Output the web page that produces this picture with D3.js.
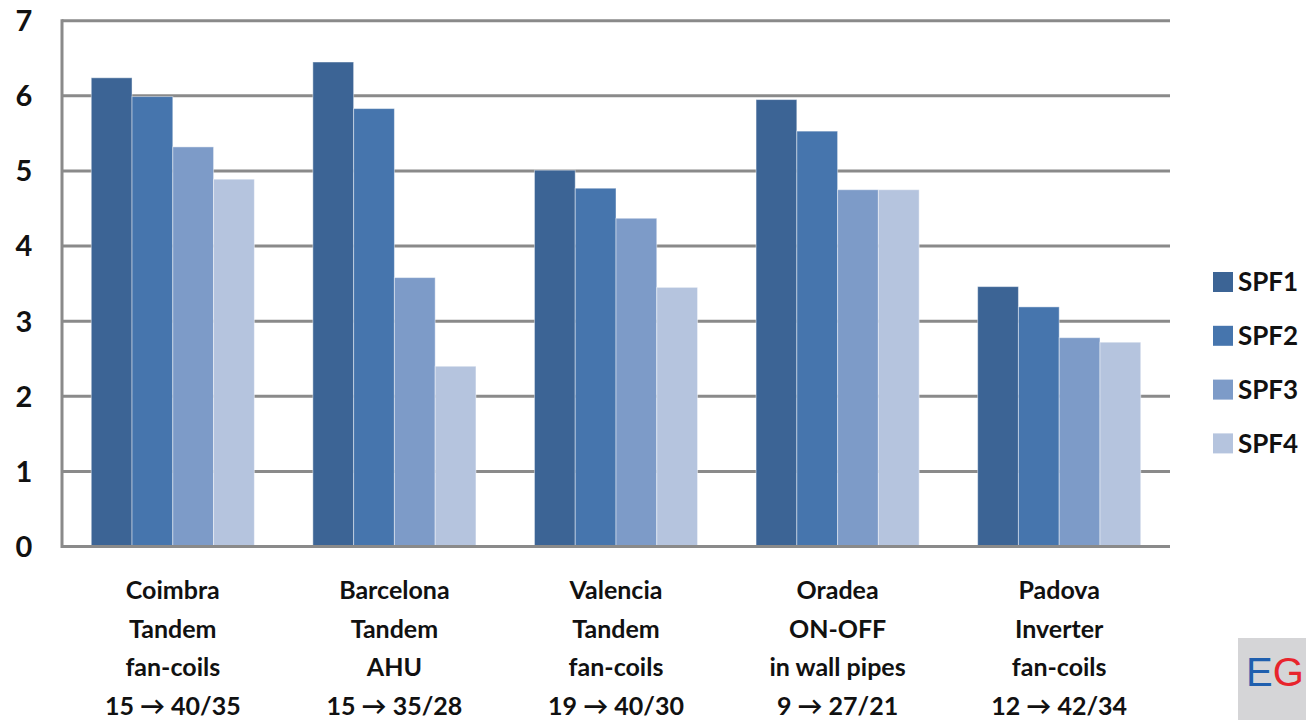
<!DOCTYPE html>
<html>
<head>
<meta charset="utf-8">
<script src="https://cdn.jsdelivr.net/npm/d3@7"></script>
<style>
  html, body { margin: 0; padding: 0; background: #fff; }
  svg { display: block; }
  text { font-family: Lato, "Open Sans", "DejaVu Sans", sans-serif; fill: #111; }
</style>
</head>
<body>
<svg id="chart" width="1306" height="720"></svg>
<script>
// Seasonal performance factors per installation
const categories = [
  ["Coimbra", "Tandem", "fan-coils", "15 \u2192 40/35"],
  ["Barcelona", "Tandem", "AHU", "15 \u2192 35/28"],
  ["Valencia", "Tandem", "fan-coils", "19 \u2192 40/30"],
  ["Oradea", "ON-OFF", "in wall pipes", "9 \u2192 27/21"],
  ["Padova", "Inverter", "fan-coils", "12 \u2192 42/34"]
];
const seriesNames = ["SPF1", "SPF2", "SPF3", "SPF4"];
const spf1 = [6.24, 6.45, 5.01, 5.95, 3.46];
const spf2 = [5.99, 5.83, 4.77, 5.53, 3.19];
const spf3 = [5.32, 3.58, 4.37, 4.75, 2.78];
const spf4 = [4.89, 2.40, 3.45, 4.75, 2.72];
const yTicks = [0, 1, 2, 3, 4, 5, 6, 7];
const colors = ["#3c6495", "#4675ad", "#7d9bc8", "#b5c4de"];

const seriesValues = [spf1, spf2, spf3, spf4];
const svg = d3.select("#chart");

const plot = { left: 62, right: 1170, top: 20.7, bottom: 546.5 };

const y = d3.scaleLinear().domain([0, 7]).range([plot.bottom, plot.top]);
const x0 = d3.scaleBand()
  .domain(categories.map((c, i) => i))
  .range([plot.left, plot.right])
  .paddingInner(0.264)
  .paddingOuter(0.132);
const x1 = d3.scaleBand()
  .domain(seriesNames)
  .range([0, x0.bandwidth()])
  .padding(0);

// Horizontal gridlines
svg.append("g")
  .selectAll("line")
  .data(yTicks.filter(d => d > 0))
  .join("line")
  .attr("x1", plot.left)
  .attr("x2", plot.right)
  .attr("y1", d => y(d))
  .attr("y2", d => y(d))
  .attr("stroke", "#8a8a8a")
  .attr("stroke-width", 3);

// Bars
const groups = svg.append("g")
  .selectAll("g")
  .data(categories.map((c, i) => i))
  .join("g")
  .attr("transform", i => `translate(${x0(i)},0)`);

groups.selectAll("rect")
  .data(i => seriesNames.map((s, k) => ({ s, k, v: seriesValues[k][i] })))
  .join("rect")
  .attr("x", d => x1(d.s))
  .attr("width", x1.bandwidth())
  .attr("y", d => y(d.v))
  .attr("height", d => y(0) - y(d.v))
  .attr("fill", d => colors[d.k])
  .attr("stroke", "rgba(255,255,255,0.45)")
  .attr("stroke-width", 1);

// Axis lines (left and baseline)
svg.append("line")
  .attr("x1", plot.left).attr("x2", plot.left)
  .attr("y1", plot.top - 1.5).attr("y2", plot.bottom + 1.5)
  .attr("stroke", "#8a8a8a").attr("stroke-width", 3);
svg.append("line")
  .attr("x1", plot.left).attr("x2", plot.right)
  .attr("y1", y(0)).attr("y2", y(0))
  .attr("stroke", "#8a8a8a").attr("stroke-width", 3);

// Y tick labels
svg.append("g")
  .selectAll("text")
  .data(yTicks)
  .join("text")
  .attr("x", 24)
  .attr("y", d => y(d))
  .attr("dy", "0.36em")
  .attr("text-anchor", "middle")
  .style("font-size", "29px")
  .style("font-weight", 700)
  .text(d => d);

// Category labels
const catLabels = svg.append("g")
  .selectAll("text")
  .data(categories.map((c, i) => i))
  .join("text")
  .attr("text-anchor", "middle")
  .style("font-size", "25px")
  .style("font-weight", 700)
  .attr("x", i => x0(i) + x0.bandwidth() / 2);
catLabels.selectAll("tspan")
  .data(i => categories[i].map((t, j) => ({ t, j, i })))
  .join("tspan")
  .attr("x", d => x0(d.i) + x0.bandwidth() / 2)
  .attr("y", d => 599 + d.j * 38.7)
  .text(d => d.t);

// Legend
const legend = svg.append("g")
  .selectAll("g")
  .data(seriesNames)
  .join("g")
  .attr("transform", (d, k) => `translate(1213, ${272 + k * 53.8})`);
legend.append("rect")
  .attr("width", 20).attr("height", 20)
  .attr("fill", (d, k) => colors[k]);
legend.append("text")
  .attr("x", 25).attr("y", 10)
  .attr("dy", "0.36em")
  .style("font-size", "26px")
  .style("font-weight", 700)
  .text(d => d);

// EG mark
svg.append("rect")
  .attr("x", 1238).attr("y", 638)
  .attr("width", 68).attr("height", 82)
  .attr("fill", "#d5d5d7");
const eg = svg.append("text")
  .attr("x", 1246).attr("y", 686)
  .style("font-family", "'Liberation Sans', Arial, sans-serif")
  .style("font-size", "40px");
eg.append("tspan").style("fill", "#1f5fae").text("E");
eg.append("tspan").style("fill", "#e8242c").text("G");
</script>
</body>
</html>
